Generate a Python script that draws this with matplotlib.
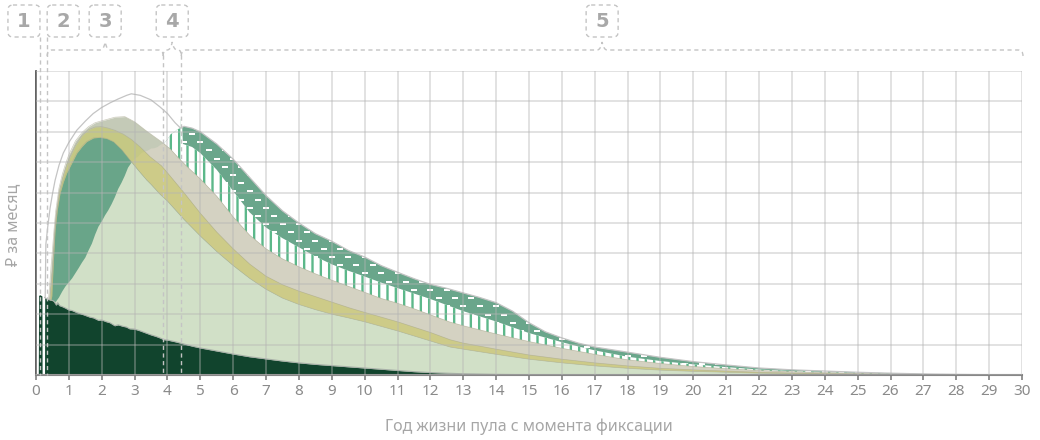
import numpy as np
import matplotlib
matplotlib.use('Agg')
import matplotlib.pyplot as plt
from matplotlib.patches import Polygon, FancyBboxPatch, PathPatch
from matplotlib.path import Path

plt.rcParams['font.family'] = ['Noto Sans', 'DejaVu Sans']
plt.rcParams['hatch.linewidth'] = 1.7
plt.rcParams['hatch.color'] = '#5cb88a'

# --- data (y in grid units, x in years) ---
# total / outline, top of the dashed band
total_x = [0.28, 0.30, 0.36, 0.43, 0.5, 0.58, 0.7, 0.83, 1.0, 1.24, 1.5, 1.74, 2.0, 2.25, 2.5,
           2.76, 2.9, 3.17, 3.5, 3.77, 4.0, 4.23, 4.4, 4.5, 4.75, 5.0, 5.5, 6.0, 6.5, 7.0,
           7.5, 8.0, 8.5, 9.0, 9.5, 10, 10.5, 11, 11.5, 12, 12.5, 13, 13.5, 14, 14.5,
           15, 15.5, 16, 16.5, 17, 18, 19, 20, 21, 22, 23, 24, 25, 26, 27, 28, 29, 30]
total_v = [2.55, 4.3, 4.9, 5.5, 5.95, 6.4, 6.9, 7.3, 7.65, 8.05, 8.35, 8.6, 8.8, 8.95, 9.08,
           9.2, 9.25, 9.2, 9.05, 8.82, 8.6, 8.3, 8.12, 8.18, 8.12, 8.0, 7.6, 7.1, 6.5, 5.9,
           5.4, 5.0, 4.65, 4.4, 4.1, 3.88, 3.6, 3.38, 3.17, 2.98, 2.85, 2.7, 2.55, 2.38, 2.1,
           1.72, 1.42, 1.22, 1.05, 0.92, 0.75, 0.58, 0.44, 0.33, 0.23, 0.17, 0.13, 0.09, 0.06,
           0.035, 0.02, 0.01, 0.0]

# top of the striped band
stripe_x = [3.8, 4.44, 4.47, 4.75, 5.0, 5.5, 6.0, 6.5, 7.0, 7.5, 8.0, 8.5, 9.0, 9.5, 10, 10.5,
            11, 11.5, 12, 12.5, 13, 13.5, 14, 14.5, 15, 15.5, 16, 16.5, 17, 18, 19, 20, 21,
            22, 23, 24, 25, 26, 27, 28, 29, 30]
stripe_v = [8.4, 8.4, 7.6, 7.5, 7.3, 6.75, 6.05, 5.35, 4.85, 4.5, 4.2, 3.9, 3.64, 3.43, 3.24,
            3.04, 2.86, 2.68, 2.5, 2.3, 2.1, 1.93, 1.76, 1.57, 1.38, 1.23, 1.08, 0.94, 0.81, 0.6,
            0.46, 0.35, 0.26, 0.18, 0.13, 0.1, 0.07, 0.045, 0.028, 0.015, 0.006, 0.0]

# top of the beige band
beige_x = [0.38, 0.42, 0.46, 0.5, 0.55, 0.6, 0.7, 0.8, 0.9, 1.0, 1.2, 1.4, 1.6, 1.8, 2.0,
           2.2, 2.4, 2.7, 3.0, 3.32, 3.6, 3.82, 4.1, 4.3, 4.6, 5.0, 5.5, 6.0, 6.5, 7.0,
           7.5, 8.0, 8.5, 9.0, 9.5, 10, 10.5, 11, 11.5, 12, 12.6, 13, 14, 15, 16,
           17, 18, 19, 20, 21, 22, 23, 24, 25, 26, 27, 28, 29, 30]
beige_v = [2.5, 3.0, 3.6, 4.1, 4.8, 5.4, 6.15, 6.6, 6.95, 7.25, 7.7, 7.98, 8.17, 8.3, 8.36,
           8.42, 8.48, 8.5, 8.33, 8.06, 7.84, 7.67, 7.42, 7.18, 6.85, 6.45, 5.88, 5.2, 4.6, 4.15,
           3.82, 3.56, 3.33, 3.12, 2.92, 2.72, 2.52, 2.36, 2.18, 1.98, 1.74, 1.62, 1.35, 1.1, 0.88,
           0.68, 0.5, 0.38, 0.28, 0.21, 0.15, 0.11, 0.08, 0.055, 0.035, 0.02, 0.01, 0.005, 0.0]

# top of the yellow band
yellow_x = [0.42, 0.46, 0.5, 0.55, 0.6, 0.7, 0.8, 0.9, 1.0, 1.2, 1.4, 1.6, 1.8, 2.0, 2.2,
            2.4, 2.66, 2.9, 3.17, 3.47, 3.82, 4.0, 4.5, 5.0, 5.5, 6.0, 6.5, 7.0, 7.5, 8.0,
            9.0, 9.56, 10, 11, 12, 12.6, 13, 14, 15, 16, 17, 18, 19, 20, 21,
            22, 23, 24, 25, 26, 27, 28, 30]
yellow_v = [2.5, 3.0, 3.45, 4.4, 5.15, 6.0, 6.45, 6.8, 7.1, 7.55, 7.88, 8.07, 8.16, 8.17, 8.12,
            8.05, 7.92, 7.75, 7.5, 7.18, 6.88, 6.65, 6.0, 5.32, 4.7, 4.15, 3.65, 3.25, 2.97, 2.76,
            2.4, 2.2, 2.06, 1.75, 1.4, 1.16, 1.05, 0.85, 0.66, 0.52, 0.4, 0.3, 0.22, 0.17, 0.13,
            0.09, 0.065, 0.045, 0.03, 0.02, 0.01, 0.005, 0.0]

# top of the green layer (teal above the fact line, light green below it)
green_x = [0.45, 0.48, 0.53, 0.58, 0.65, 0.73, 0.83, 0.93, 1.1, 1.24, 1.4, 1.54, 1.75, 1.95, 2.15,
           2.35, 2.6, 2.86, 3.1, 3.37, 3.5, 3.77, 4.0, 4.5, 5.0, 5.5, 6.0, 6.5, 7.0, 7.5,
           8.0, 8.5, 9.0, 9.5, 10, 11, 12, 12.6, 13, 14, 15, 16, 17, 18, 19,
           20, 21, 22, 23, 24, 25, 26, 27, 28, 30]
green_v = [2.45, 2.6, 3.8, 4.77, 5.45, 5.98, 6.35, 6.64, 7.0, 7.3, 7.52, 7.68, 7.8, 7.82, 7.78,
           7.68, 7.42, 7.07, 6.75, 6.41, 6.27, 5.95, 5.72, 5.12, 4.57, 4.06, 3.6, 3.18, 2.82, 2.53,
           2.32, 2.15, 2.0, 1.88, 1.75, 1.45, 1.12, 0.92, 0.85, 0.68, 0.52, 0.4, 0.3, 0.22, 0.16,
           0.12, 0.09, 0.06, 0.045, 0.03, 0.02, 0.012, 0.006, 0.003, 0.0]

# fact line
fact_x = [0.5, 0.6, 0.7, 0.8, 0.9, 1.0, 1.1, 1.2, 1.3, 1.4, 1.5, 1.6, 1.7, 1.8, 1.9, 2.0,
          2.1, 2.2, 2.3, 2.4, 2.5, 2.6, 2.7, 2.8, 2.9, 3.0, 3.1, 3.2, 3.3, 3.4, 3.5, 3.6,
          3.7, 3.8, 3.9, 4.0, 4.1, 4.2, 4.3, 4.4]
fact_v = [2.45, 2.40, 2.55, 2.75, 2.92, 3.05, 3.18, 3.35, 3.52, 3.70, 3.86, 4.10, 4.32, 4.62,
          4.88, 5.05, 5.25, 5.42, 5.62, 5.85, 6.12, 6.32, 6.55, 6.82, 6.98, 7.12, 7.18, 7.30,
          7.35, 7.38, 7.45, 7.46, 7.50, 7.58, 7.62, 7.75, 7.92, 7.98, 8.08, 8.12]

# dark base
base_x = [0.07, 0.08, 0.12, 0.18, 0.185, 0.26, 0.265, 0.3, 0.35, 0.42, 0.5, 0.55, 0.62, 0.66,
          0.72, 0.8, 0.9, 1.0, 1.1, 1.25, 1.4, 1.5, 1.65, 1.75, 1.9, 2.0, 2.15, 2.25, 2.4, 2.5,
          2.65, 2.75, 2.85, 3.0, 3.15, 3.25, 3.4, 3.5, 3.65, 3.75, 3.9, 4.0, 4.25, 4.5, 4.75,
          5.0, 5.5, 6.0, 6.5, 7.0, 7.5, 8.0, 8.5, 9.0, 9.5, 10, 10.5, 11, 11.5, 12,
          12.5, 13, 14, 15, 16, 18, 20]
base_v = [0.0, 2.62, 2.64, 2.6, 0.0, 0.0, 2.55, 2.52, 2.5, 2.47, 2.45, 2.42, 2.30, 2.38,
          2.28, 2.25, 2.2, 2.14, 2.12, 2.05, 2.0, 1.96, 1.9, 1.88, 1.80, 1.81, 1.75, 1.72, 1.62, 1.65,
          1.60, 1.58, 1.52, 1.51, 1.46, 1.42, 1.36, 1.32, 1.27, 1.23, 1.16, 1.15, 1.09, 1.02, 0.95,
          0.89, 0.79, 0.69, 0.6, 0.53, 0.46, 0.4, 0.35, 0.31, 0.27, 0.23, 0.19, 0.15, 0.11, 0.08,
          0.06, 0.04, 0.02, 0.01, 0.005, 0.002, 0.0]

phases = [0.12, 0.34, 3.87, 4.42]
phase_labels = ['1', '2', '3', '4', '5']
xticks = list(range(0, 31))

# --- layout ---
W, H = 1040, 440
AX_L, AX_R, AX_B, AX_T = 36, 1022, 375, 71
fig = plt.figure(figsize=(W / 100, H / 100), dpi=100)
ax = fig.add_axes([AX_L / W, 1 - AX_B / H, (AX_R - AX_L) / W, (AX_B - AX_T) / H])
ax.set_xlim(0, 30)
ax.set_ylim(0, 10)

# area under the fact line (and everything after it ends)
verts = [(fact_x[0], -1)] + list(zip(fact_x, fact_v)) + [(fact_x[-1], 20), (31, 20), (31, -1)]
under_fact = Polygon(verts, closed=True, facecolor='none', edgecolor='none')
ax.add_patch(under_fact)


def layer(x, v, above, z, **below_kw):
    if above is not None:
        ax.fill_between(x, 0, v, color=above, lw=0, zorder=z)
    c = ax.fill_between(x, 0, v, lw=0, zorder=z + 0.01, **below_kw)
    c.set_clip_path(under_fact)
    return c


tcoll = layer(total_x, total_v, None, 1.0, facecolor='#6aa68b')

# white dashes inside the dashed band
gx = np.arange(4.5, 30, 0.5)
rows = np.arange(0.1, 10, 0.27)
dx, dy = [], []
for i, r in enumerate(rows):
    dx += list(gx + 0.25 * (i % 2))
    dy += [r] * len(gx)
dl, = ax.plot(dx, dy, ls='none', marker='_', ms=4.8, mew=1.3, color='white', zorder=1.05)
dl.set_clip_path(tcoll.get_paths()[0], ax.transData)

layer(stripe_x, stripe_v, None, 1.1, facecolor='white', edgecolor='#5cb88a', hatch='||')
layer(beige_x, beige_v, '#c4cab7', 1.2, facecolor='#d4d2c2')
layer(yellow_x, yellow_v, '#c5c884', 1.3, facecolor='#cdcb88')
layer(green_x, green_v, '#69a589', 1.4, facecolor='#d1e0c7')
ax.fill_between(base_x, 0, base_v, color='#11442d', lw=0, zorder=1.5)

# edges
for xs, vs in [(green_x, green_v), (yellow_x, yellow_v), (beige_x, beige_v)]:
    ax.plot(xs, vs, color='#a9a88e', lw=0.5, alpha=0.6, zorder=1.6)
ax.plot(base_x[6:], base_v[6:], color='#a8b0a8', lw=0.8, zorder=1.6)
ax.plot(total_x, total_v, color='#c4c4c4', lw=0.9, zorder=1.6)

# axes styling
ax.set_xticks(xticks)
ax.set_yticks(range(0, 11))
ax.tick_params(axis='x', length=3.5, width=1.2, color='#808080', labelsize=11,
               labelcolor='#8a8a8a', pad=3)
ax.tick_params(axis='y', length=0, labelleft=False)
ax.grid(True, color='#b4b4b4', alpha=0.45, lw=1.2)
ax.set_axisbelow(False)
for s in ['top', 'right']:
    ax.spines[s].set_visible(False)
ax.spines['left'].set_color('#444444')
ax.spines['left'].set_linewidth(1.2)
ax.spines['bottom'].set_color('#888888')
ax.spines['bottom'].set_linewidth(1.5)

fig.text(529 / W, 1 - 427 / H, 'Год жизни пула с момента фиксации', ha='center', va='center',
         fontsize=11.5, color='#a6a6a6')
fig.text(13 / W, 1 - 225 / H, '₽ за месяц', rotation=90, ha='center', va='center',
         fontsize=11.5, color='#a6a6a6')

# --- phase annotations (overlay in pixel coordinates) ---
ov = fig.add_axes([0, 0, 1, 1], zorder=5)
ov.set_xlim(0, W)
ov.set_ylim(H, 0)
ov.axis('off')


def to_px(x):
    return AX_L + x * (AX_R - AX_L) / 30


dash = (0, (3, 2.5))
gray = '#c4c4c4'
pp = [to_px(p) for p in phases]

for i, p in enumerate(pp):
    top = 37 if i < 2 else 55
    ov.plot([p, p], [top, AX_B], color=gray, lw=1, ls=dash)


def brace(xa, xb, y=50, tip=42, r=5, drop=6):
    xm = (xa + xb) / 2
    v = [(xa, y + drop), (xa, y), (xa + r, y), (xm - 5, y), (xm - 1.5, y), (xm, tip),
         (xm + 1.5, y), (xm + 5, y), (xb - r, y), (xb, y), (xb, y + drop)]
    c = [Path.MOVETO, Path.CURVE3, Path.CURVE3, Path.LINETO, Path.CURVE3, Path.CURVE3,
         Path.CURVE3, Path.CURVE3, Path.LINETO, Path.CURVE3, Path.CURVE3]
    ov.add_patch(PathPatch(Path(v, c), fc='none', ec=gray, lw=1, ls=dash))
    return xm


m3 = brace(pp[1], pp[2])
m4 = brace(pp[2], pp[3], r=3)
m5 = brace(pp[3], to_px(30) + 1)

box_x = [pp[0] - 32, pp[1], m3 - 16, m4 - 16, m5 - 16]
for bx, lab in zip(box_x, phase_labels):
    ov.add_patch(FancyBboxPatch((bx, 5), 32, 32, boxstyle='round,pad=0,rounding_size=5',
                                fc='none', ec=gray, lw=1, ls=dash))
    ov.text(bx + 16, 21.5, lab, ha='center', va='center', fontsize=14, fontweight='bold',
            family='DejaVu Sans', color='#a8a8a8')

fig.savefig('out.png', dpi=100)
